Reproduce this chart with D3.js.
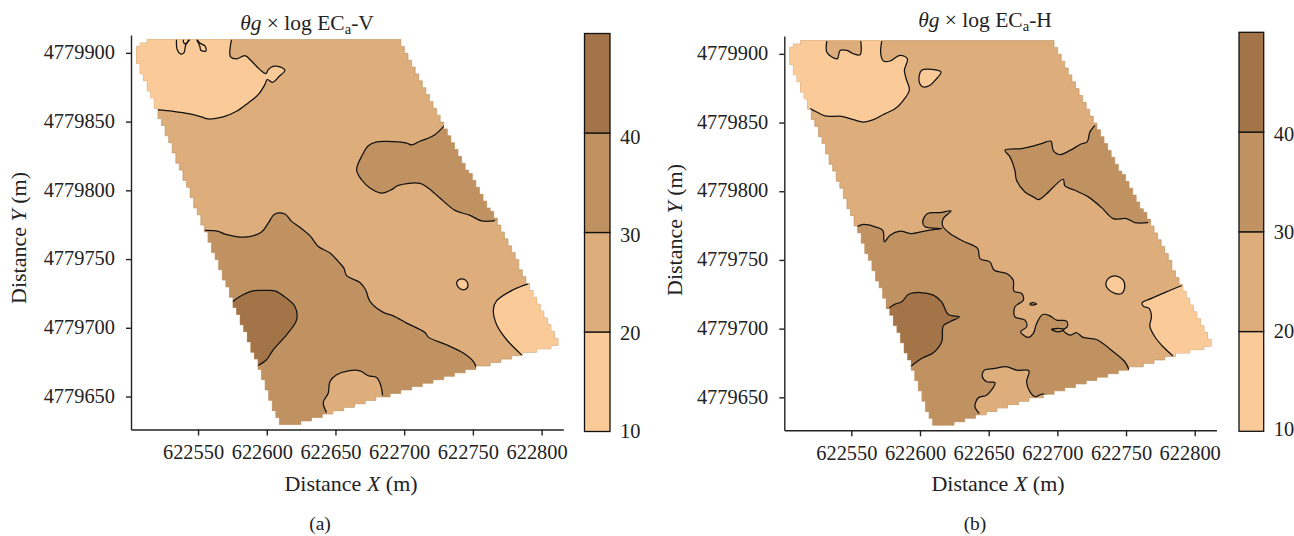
<!DOCTYPE html>
<html>
<head>
<meta charset="utf-8">
<script src="https://cdn.jsdelivr.net/npm/d3@7"></script>
<style>
  html, body { margin: 0; background: #fff; }
  text { font-family: "Liberation Serif", serif; fill: #222; }
</style>
</head>
<body>
<svg id="chart" width="1294" height="536"></svg>
<script>
'use strict';

// Site origin: every contour below is [metres east, metres north] from here
var originX = 622500;
var originY = 4779600;

var xTicks = [622550, 622600, 622650, 622700, 622750, 622800];
var yTicks = [4779900, 4779850, 4779800, 4779750, 4779700, 4779650];
var levels = [10, 20, 30, 40, 50];
var levelLabels = [10, 20, 30, 40];
var bandColors = ['#facb98', '#ddad7b', '#c09262', '#a37448'];

// Plot outline, same for both surveys
var fieldOutline = [[4,302.4],[7.6,306.8],[16.4,309.7],[196.2,309.7],[229.7,244.2],[267.5,177.2],[290.1,132.8],[312,89.8],[312,86.9],[284.3,80.4],[253,70.9],[119,29.4],[109.5,29.4],[93.5,73.1],[54.9,171.4],[20,258.7],[4,297.3]];

// (a) ECa-V contours
var vLightNW = [[74.4,309.7],[73.2,302.4],[73.6,297.1],[78,295.6],[84.1,298],[89,293.9],[95,287.8],[99.4,284.9],[101.1,287.8],[105.2,290.3],[109.6,289.8],[113.2,287.3],[109.1,283],[104.2,278.6],[100.3,280.6],[98.6,276.9],[93.8,269.6],[86.5,263.6],[78,257.5],[68.3,253.4],[57.4,251.9],[52.5,253.4],[44,255.6],[31.9,257.5],[20.2,258.7]];
var vLoop1 = [[34.3,309.7],[34.8,302.4],[37.2,299.2],[39.7,300],[41.1,306],[44,309.7]];
var vLoop2 = [[39.2,309.7],[39.7,307.2],[41.6,306.8],[43.3,309.7]];
var vLoop3 = [[48.9,309.7],[51.3,304.8],[52,301.9],[55.7,301.4],[55.2,304.8],[51.3,307.2],[49.4,309.7]];
var vBlobNE = [[229.2,247.1],[222.4,240.5],[216.3,237.4],[211.5,235.7],[205.4,233],[201.8,234.4],[187.2,235.6],[180,235.2],[173.9,232.5],[169.7,226],[165.4,215],[169,207.7],[175.1,201.7],[183.6,198],[190.9,200.5],[195.7,203.6],[211.5,205.1],[217.5,201.7],[226,194.4],[237,185.4],[247.9,181.8],[256.4,177.7],[266.1,177.9]];
var vBandSW = [[55,170.9],[64.7,170.2],[69.5,168.2],[84.1,166],[96.2,169.7],[101.1,176.2],[105.9,182.8],[113.2,182.8],[118.1,177.4],[124.1,173.1],[131.4,167],[137.5,159.2],[146,154.4],[152,148.3],[156.1,143.4],[158.1,137.9],[167.8,133],[171.9,127.7],[175.1,119.2],[184.8,111.2],[192.1,108.7],[201.8,103.4],[215.1,96.6],[217.6,93.2],[230.9,87.6],[243,81.6],[250.3,75.5],[252.7,70.6]];
var vDark = [[74.4,118.4],[80.4,122.8],[90.1,126.9],[98.6,127.2],[105.9,126.9],[112,123.3],[120.5,115.5],[121.7,105.8],[114.4,94.9],[104.7,84],[99.8,76.7],[93.8,72.6]];
var vBump = [[143.5,38.4],[141.1,45.6],[144.7,52.4],[146,60.9],[150.8,65.8],[159.3,68.7],[167.8,68.7],[173.9,65.1],[179.9,63.8],[182.8,58.5],[184.3,50.7]];
var vIsland = [[238.2,133],[240.6,135.4],[244.2,135],[246.4,132],[245.5,128.6],[242.5,127.7],[239.4,129.6]];
var vLightSE = [[290.3,132],[279.4,127.7],[267.3,119.7],[264.9,113.1],[267.3,102.2],[274.6,91.3],[285.5,80.3]];

// (b) ECa-H contours
var hLightNW = [[72.1,309.3],[71.4,300.1],[73.4,294.8],[78.2,294.8],[85.5,298.9],[90.8,296.5],[88.6,288],[90.3,280.7],[92.3,273.9],[87.9,266.2],[81.8,260.1],[74.6,256.5],[66.1,252.1],[58.8,250.4],[51.5,252.1],[43,254.5],[30.9,254.8],[24.8,257.7],[20,260.1]];
var hNotch = [[32.1,309.3],[32.1,301.3],[35.8,297.7],[39.9,296.5],[41.8,302.5],[46.7,302.5],[51.5,300.1],[56.4,299.4],[56.9,309.3]];
var hIslandN = [[101.2,288],[108.5,288.7],[115.3,286.8],[110.9,280.7],[107.3,277.1],[102.4,275.9],[99.3,280.2]];
var hBlobNE = [[227.3,248],[223.7,243.2],[221.7,235.9],[216.9,234.2],[210.3,230.3],[201.8,226.7],[197,229.8],[195.3,236.4],[188.5,234.7],[181.3,232.7],[174,231],[161.9,229.8],[165.5,225],[169.1,215.3],[170.3,208],[176.4,199.5],[182.5,195.9],[186.1,193.9],[191,197.1],[204.3,208.7],[205.5,203.9],[212.8,200.7],[222.5,195.9],[232.2,188.1],[240.6,180.1],[250.3,180.1],[256.4,177.2],[266.1,177.2]];
var hBandSW = [[53.9,174.1],[58.8,175.8],[67.3,174.1],[72.9,171.6],[74.1,163.2],[78.2,168],[85.5,170.9],[94,169.2],[106.1,171.6],[115.8,172.8],[103.7,174.1],[102,177.7],[105.4,183.8],[114.6,184.5],[122.6,185.7],[117,180.1],[116.5,174.8],[121.8,169.2],[131.5,163.6],[142,158.3],[143.7,151],[150.9,148.6],[153.9,142.6],[163.1,140.1],[167.9,135.3],[168.4,127.3],[174,125.6],[175.2,120.7],[169.1,115.9],[169.1,108.6],[176.4,106.2],[177.6,101.3],[173.2,97.7],[178.8,93.6],[182.5,96.5],[184.9,103.8],[189.3,110.3],[194.6,109.3],[199.4,106.2],[206.7,105.5],[207.2,101.3],[204.3,98.9],[209.1,95.3],[214,97],[218.8,93.6],[228.5,92.1],[240.7,83.2],[249.1,75.9],[252.1,70.3]];
var hSpeck1 = [[180,118],[182,119],[184.9,118],[182,117.1]];
var hSpeck2 = [[195.8,99.4],[200.6,100.1],[204.8,99.4],[200.6,97.7]];
var hDark = [[77.7,115.2],[81.8,117.8],[86.7,119.5],[91.5,124.8],[100,126.3],[109.7,124.4],[115.8,119.5],[120.6,110.3],[128.6,108.6],[121.8,105],[117,102.1],[115.8,90.4],[109.7,82.4],[101.2,78.3],[93.5,72.7]];
var hBump = [[143.2,38.3],[140,43.2],[142.5,49.7],[148.5,51.6],[154.6,60.6],[148.5,61.3],[145.4,65],[146.8,69.8],[154.6,71],[162.6,72.3],[170.3,69.8],[179.3,69.3],[177.6,61.3],[180,54.1],[183.9,50.4],[186.1,51.2],[189.3,52.4],[192.2,51.6]];
var hIsland = [[235.3,132.1],[237.8,137],[243.1,138.2],[247.9,135.3],[249.1,130.4],[246.7,125.6],[241.9,125.6],[237,128.7]];
var hLightSE = [[290.4,131.2],[279.4,126.8],[268.5,122],[261.7,118.8],[262.5,116.4],[266.8,114.7],[268.5,108.6],[267.3,101.8],[271,94.1],[277,86.8],[284.3,80]];

// band index, contour, points that close the fill outside the plot (null = closed island)
var vRegions = [
  [0, vLightNW, [[0,259],[0,320],[74.4,320]]],
  [2, vBlobNE, [[300,178],[300,250]]],
  [2, vBandSW, [[255,60],[100,15],[40,172]]],
  [3, vDark, [[60,70],[60,118]]],
  [1, vBump, [[185,30],[145,30]]],
  [0, vIsland, null],
  [0, vLightSE, [[290,72],[330,70],[330,132]]],
  [-1, vLoop1, []],
  [-1, vLoop2, []],
  [-1, vLoop3, []]
];
var hRegions = [
  [0, hLightNW, [[0,262],[0,320],[72.1,320]]],
  [1, hNotch, [[57,320],[32,320]]],
  [0, hIslandN, null],
  [2, hBlobNE, [[300,178],[300,250]]],
  [2, hBandSW, [[255,60],[100,15],[40,176]]],
  [2, hSpeck1, null],
  [2, hSpeck2, null],
  [3, hDark, [[60,70],[60,115]]],
  [1, hBump, [[195,40],[145,25]]],
  [0, hIsland, null],
  [0, hLightSE, [[290,72],[330,70],[330,131]]]
];

var svg = d3.select('#chart');

// Kriging grid look: snap the outline to grid cells, row by row
function stairOutline(outline) {
  var cellW = 2.6, cellH = 2.5;
  var right = [], left = [];
  for (var y = 309.7; y > 25; y -= cellH) {
    var minX = null, maxX = null;
    for (var x = 0; x < 316; x += cellW) {
      if (d3.polygonContains(outline, [x + cellW / 2, y - cellH / 2])) {
        if (minX === null) minX = x;
        maxX = x + cellW;
      }
    }
    if (minX === null) continue;
    right.push([maxX, y], [maxX, y - cellH]);
    left.unshift([minX, y], [minX, y - cellH]);
  }
  // left column runs bottom-up, keep each row's pair in order
  var back = [];
  for (var i = 0; i < left.length; i += 2) back.push(left[i + 1], left[i]);
  return right.concat(back);
}

var stairs = stairOutline(fieldOutline);

function drawPanel(p) {
  var x = d3.scaleLinear().domain([622501.2, 622815.8]).range(p.xRange);
  var y = d3.scaleLinear().domain([4779626, 4779913]).range(p.yRange);
  var px = function (d) { return x(d[0] + originX); };
  var py = function (d) { return y(d[1] + originY); };

  var g = svg.append('g');

  var poly = d3.line().x(px).y(py);
  var smooth = d3.line().x(px).y(py).curve(d3.curveCatmullRom.alpha(0.5));
  var smoothClosed = d3.line().x(px).y(py).curve(d3.curveCatmullRomClosed.alpha(0.5));

  var fieldPath = poly(stairs) + 'Z';

  svg.append('clipPath').attr('id', p.id + '-clip').append('path').attr('d', fieldPath);

  g.append('path')
    .attr('d', fieldPath)
    .attr('fill', bandColors[1])
    .attr('stroke', '#bb9060')
    .attr('stroke-width', 0.6);

  var field = g.append('g').attr('clip-path', 'url(#' + p.id + '-clip)');

  p.regions.forEach(function (r) {
    var band = r[0], pts = r[1], close = r[2];
    if (band >= 0) {
      var d = close ? smooth(pts) + poly(close).replace('M', 'L') + 'Z' : smoothClosed(pts) + 'Z';
      field.append('path').attr('d', d).attr('fill', bandColors[band]);
    }
    field.append('path')
      .attr('d', close ? smooth(pts) : smoothClosed(pts) + 'Z')
      .attr('fill', 'none')
      .attr('stroke', '#111')
      .attr('stroke-width', 1.25);
  });

  // Axes
  var xAxis = g.append('g')
    .attr('transform', 'translate(0,' + p.yRange[0] + ')')
    .call(d3.axisBottom(x).tickValues(xTicks).tickSize(6).tickSizeOuter(0).tickPadding(6).tickFormat(d3.format('d')));
  xAxis.selectAll('text').attr('dx', -5).attr('dy', '0.85em');

  var yAxis = g.append('g')
    .attr('transform', 'translate(' + p.xRange[0] + ',0)')
    .call(d3.axisLeft(y).tickValues(yTicks).tickSize(5).tickSizeOuter(0).tickPadding(11).tickFormat(d3.format('d')));
  yAxis.selectAll('text').attr('dy', '0.28em');

  [xAxis, yAxis].forEach(function (a) {
    a.selectAll('text').style('font-family', '"Liberation Serif", serif').style('font-size', '20.4px').attr('fill', '#222');
    a.selectAll('path, line').attr('stroke', '#222').attr('stroke-width', 1.4);
  });

  // Titles
  var title = g.append('text')
    .attr('x', p.titleX)
    .attr('y', p.titleY)
    .attr('text-anchor', 'middle')
    .style('font-size', '21.5px');
  title.append('tspan').style('font-style', 'italic').text('θg');
  title.append('tspan').text(' × log EC');
  title.append('tspan').attr('dy', 4).style('font-size', '14.5px').text('a');
  title.append('tspan').attr('dy', -4).text('-' + p.suffix);

  var xTitle = g.append('text')
    .attr('x', p.xTitleX)
    .attr('y', 491)
    .attr('text-anchor', 'middle')
    .style('font-size', '22px');
  xTitle.append('tspan').text('Distance ');
  xTitle.append('tspan').style('font-style', 'italic').text('X');
  xTitle.append('tspan').text(' (m)');

  var yTitle = g.append('text')
    .attr('transform', 'translate(' + p.yTitleX + ',' + p.yTitleY + ') rotate(-90)')
    .attr('text-anchor', 'middle')
    .style('font-size', '22px');
  yTitle.append('tspan').text('Distance ');
  yTitle.append('tspan').style('font-style', 'italic').text('Y');
  yTitle.append('tspan').text(' (m)');

  g.append('text')
    .attr('x', p.labelX)
    .attr('y', 530)
    .attr('text-anchor', 'middle')
    .style('font-size', '19.5px')
    .text(p.label);

  // Colour bar
  var barY = d3.scaleLinear().domain([10, 50]).range(p.barRange);
  var labelY = d3.scaleLinear().domain([10, 40]).range(p.barLabelRange);
  var bar = g.append('g');
  bar.selectAll('rect')
    .data(d3.pairs(levels))
    .join('rect')
    .attr('x', p.barX[0])
    .attr('width', p.barX[1] - p.barX[0])
    .attr('y', function (d) { return barY(d[1]); })
    .attr('height', function (d) { return barY(d[0]) - barY(d[1]); })
    .attr('fill', function (d, i) { return bandColors[i]; })
    .attr('stroke', '#111')
    .attr('stroke-width', 1.3);
  bar.selectAll('text')
    .data(levelLabels)
    .join('text')
    .attr('x', p.barX[1] + 10)
    .attr('y', function (d) { return labelY(d); })
    .attr('dy', '0.35em')
    .style('font-size', '20.4px')
    .text(function (d) { return d; });
}

drawPanel({
  id: 'v', regions: vRegions, suffix: 'V', label: '(a)',
  xRange: [131, 563.3], yRange: [429.5, 35],
  titleX: 307, titleY: 30, xTitleX: 351, yTitleX: 26, yTitleY: 238, labelX: 320,
  barX: [584.5, 610], barRange: [431.5, 33.5], barLabelRange: [430.5, 136.5]
});

drawPanel({
  id: 'h', regions: hRegions, suffix: 'H', label: '(b)',
  xRange: [784.3, 1216.4], yRange: [430.3, 36],
  titleX: 985, titleY: 27, xTitleX: 998, yTitleX: 682, yTitleY: 230, labelX: 975,
  barX: [1239, 1263.7], barRange: [431.3, 32.3], barLabelRange: [429, 133.5]
});
</script>
</body>
</html>
